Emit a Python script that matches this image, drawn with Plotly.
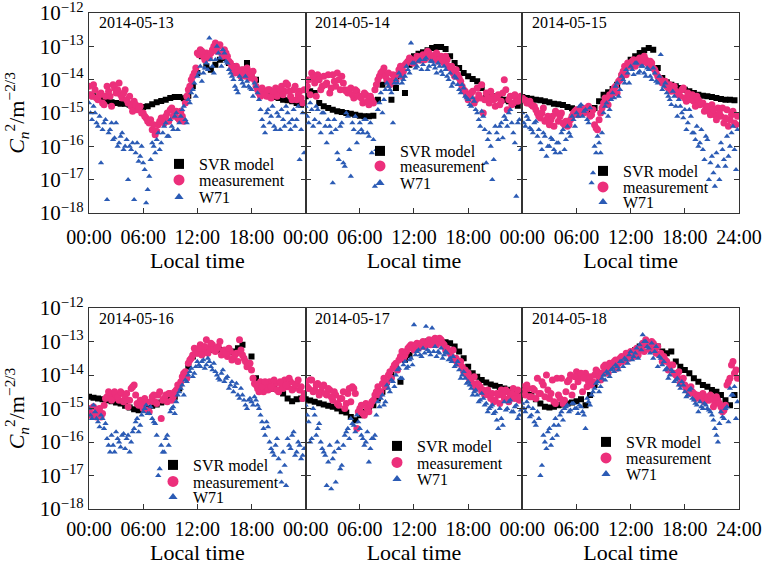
import plotly.graph_objects as go

FONT = "Liberation Serif"
PINK = "#ec2f7b"
BLUE = "#2b5bb5"

DATES = ["2014-05-13", "2014-05-14", "2014-05-15", "2014-05-16", "2014-05-17", "2014-05-18"]
SERIES_NAMES = ["SVR model", "measurement", "W71"]
TICK_VALS = [0, 6, 12, 18, 24]
TICK_TEXT_MID = ["00:00", "06:00", "12:00", "18:00", ""]
TICK_TEXT_END = ["00:00", "06:00", "12:00", "18:00", "24:00"]
Y_TICKS = [1e-18, 1e-17, 1e-16, 1e-15, 1e-14, 1e-13, 1e-12]
Y_TICK_TEXT = ["10<sup>\u221218</sup>", "10<sup>\u221217</sup>", "10<sup>\u221216</sup>",
               "10<sup>\u221215</sup>", "10<sup>\u221214</sup>", "10<sup>\u221213</sup>",
               "10<sup>\u221212</sup>"]

# local time in hours: SVR every 30 min, observations read at two interleaved 20-min grids
T_SVR = [0, 0.5, 1, 1.5, 2, 2.5, 3, 3.5, 4, 4.5, 5, 5.5, 6, 6.5, 7, 7.5, 8, 8.5, 9, 9.5,
         10, 10.5, 11, 11.5, 12, 12.5, 13, 13.5, 14, 14.5, 15, 15.5, 16, 16.5, 17, 17.5,
         18, 18.5, 19, 19.5, 20, 20.5, 21, 21.5, 22, 22.5, 23, 23.5]
T_OBS_A = [0, 0.33, 0.67, 1, 1.33, 1.67, 2, 2.33, 2.67, 3, 3.33, 3.67, 4, 4.33, 4.67, 5, 5.33, 5.67,
           6, 6.33, 6.67, 7, 7.33, 7.67, 8, 8.33, 8.67, 9, 9.33, 9.67, 10, 10.33, 10.67, 11, 11.33, 11.67,
           12, 12.33, 12.67, 13, 13.33, 13.67, 14, 14.33, 14.67, 15, 15.33, 15.67, 16, 16.33, 16.67,
           17, 17.33, 17.67, 18, 18.33, 18.67, 19, 19.33, 19.67, 20, 20.33, 20.67, 21, 21.33, 21.67,
           22, 22.33, 22.67, 23, 23.33, 23.67]
T_OBS_B = [0.17, 0.5, 0.83, 1.17, 1.5, 1.83, 2.17, 2.5, 2.83, 3.17, 3.5, 3.83, 4.17, 4.5, 4.83,
           5.17, 5.5, 5.83, 6.17, 6.5, 6.83, 7.17, 7.5, 7.83, 8.17, 8.5, 8.83, 9.17, 9.5, 9.83,
           10.17, 10.5, 10.83, 11.17, 11.5, 11.83, 12.17, 12.5, 12.83, 13.17, 13.5, 13.83,
           14.17, 14.5, 14.83, 15.17, 15.5, 15.83, 16.17, 16.5, 16.83, 17.17, 17.5, 17.83,
           18.17, 18.5, 18.83, 19.17, 19.5, 19.83, 20.17, 20.5, 20.83, 21.17, 21.5, 21.83,
           22.17, 22.5, 22.83, 23.17, 23.5, 23.83]

# values are log10(Cn2 / m^-2/3)
SVR_0513 = [-14.45, -14.5, -14.55, -14.6, -14.65, -14.68, -14.7, -14.72, -14.72, -14.75, -14.77, -14.8,
            -14.82, -14.8, -14.74, -14.68, -14.64, -14.6, -14.55, -14.52, -14.52, -14.56, -14.48, -14.2,
            -13.8, -13.3, -13.6, -13.7, -13.55, -13.4, -13.35, -13.5, -13.6, -13.75, -13.7, -13.5,
            -13.9, -14.0, -14.3, -14.45, -14.5, -14.52, -14.55, -14.6, -14.62, -14.65, -14.7, -14.75]
MEAS_0513_A = [-14.2, -14.5, -14.3, -14.6, -14.4, -14.75, -14.2, -14.5, -14.15, -14.4, -14.1, -14.55,
               -14.3, -14.7, -14.8, -14.65, -14.9, -14.8, -15.0, -15.15, -15.3, -15.5, -15.65, -15.35,
               -15.15, -15.3, -15.0, -14.9, -15.1, -14.95, -15.2, -15.1, -14.7, -14.3, -14.0, -13.8,
               -13.2, -13.1, -13.3, -13.2, -13.35, -13.1, -12.9, -13.0, -13.2, -13.1, -13.3, -13.5,
               -13.7, -13.6, -13.8, -13.7, -13.9, -13.75, -13.85, -14.0, -14.3, -14.5, -14.35, -14.5,
               -14.3, -14.45, -14.25, -14.4, -14.2, -14.35, -14.15, -14.5, -14.3, -14.6, -14.35, -14.7]
MEAS_0513_B = [-14.45, -14.15, -14.55, -14.45, -14.7, -14.5, -14.35, -14.8, -14.25, -14.3, -14.45, -14.4,
               -14.6, -14.5, -14.95, -14.75, -14.85, -15.0, -15.1, -15.25, -15.2, -15.35, -15.55, -15.25,
               -15.2, -15.1, -15.25, -14.85, -15.0, -15.15, -14.95, -15.25, -14.5, -14.2, -13.9, -13.65,
               -13.25, -13.15, -13.4, -13.3, -13.2, -13.0, -13.15, -12.95, -13.3, -13.2, -13.45, -13.6,
               -13.8, -13.7, -13.9, -13.8, -13.65, -13.95, -13.75, -14.2, -14.4, -14.25, -14.45, -14.3,
               -14.55, -14.35, -14.5, -14.3, -14.45, -14.1, -14.35, -14.6, -14.2, -14.45, -14.55, -14.3]
W71_0513_A = [-14.7, -15.2, -15.0, -15.4, -16.5, -15.3, -17.6, -15.5, -15.8, -15.3, -15.9, -15.6,
              -16.0, -17.0, -16.1, -17.6, -15.9, -16.3, -16.5, -17.7, -16.9, -15.9, -16.2, -15.6,
              -15.9, -15.4, -15.7, -15.2, -15.5, -15.0, -15.3, -14.9, -15.2, -14.6, -14.4, -14.1,
              -13.9, -13.6, -13.8, -13.5, -12.75, -13.6, -13.4, -13.2, -13.6, -13.2, -13.5, -13.8,
              -14.0, -14.3, -13.9, -14.1, -13.9, -14.2, -14.3, -14.1, -14.4, -14.9, -15.4, -15.0,
              -15.3, -14.8, -15.5, -15.1, -14.9, -15.4, -15.0, -15.5, -14.9, -15.2, -16.4, -15.0]
W71_0513_B = [-15.0, -14.8, -15.3, -15.1, -15.5, -15.2, -15.6, -15.3, -15.75, -16.0, -15.7, -16.1,
              -15.8, -16.0, -15.9, -16.2, -16.45, -16.0, -16.7, -17.3, -16.4, -16.0, -15.8, -16.1,
              -15.6, -15.3, -15.7, -15.4, -15.1, -15.5, -15.1, -14.8, -15.3, -14.7, -14.3, -14.5,
              -13.8, -14.05, -13.65, -13.7, -13.4, -13.8, -13.0, -13.35, -13.1, -13.45, -13.7, -13.9,
              -14.2, -14.4, -14.0, -14.2, -14.05, -14.25, -14.5, -14.2, -14.6, -15.2, -15.6, -14.9,
              -15.1, -15.4, -15.0, -15.5, -15.2, -14.8, -15.3, -15.2, -15.4, -14.8, -15.5, -16.2]

SVR_0514 = [-14.5, -14.35, -14.4, -14.7, -14.8, -14.85, -14.9, -14.95, -14.97, -15.0, -15.02, -15.05,
            -15.08, -15.1, -15.1, -15.08, -14.6, -14.15, -14.05, -14.6, -14.25, -13.9, -14.4, -13.55,
            -13.3, -13.22, -13.18, -13.12, -13.05, -13.02, -13.02, -13.08, -13.3, -13.5, -13.65, -13.8,
            -13.9, -13.98, -14.05, -14.25, -14.45, -14.48, -14.5, -14.52, -14.6, -14.65, -14.72, -14.78]
MEAS_0514_A = [-14.3, -14.0, -13.8, -14.1, -13.85, -14.3, -13.9, -14.1, -14.4, -13.85, -14.2, -14.0,
               -13.9, -14.3, -14.4, -14.25, -14.55, -14.35, -14.5, -14.7, -14.45, -14.75, -14.6, -14.3,
               -14.0, -13.8, -13.65, -14.0, -14.15, -13.85, -14.05, -13.7, -13.9, -13.55, -13.45, -13.4,
               -13.5, -13.3, -13.42, -13.25, -13.35, -13.2, -13.4, -13.25, -13.45, -13.3, -13.5, -13.4,
               -13.65, -13.8, -13.7, -13.95, -14.2, -14.35, -14.6, -14.4, -14.7, -14.25, -14.55, -15.0,
               -14.4, -14.7, -14.5, -14.8, -14.45, -14.65, -14.0, -14.9, -14.5, -14.7, -14.55, -14.6]
MEAS_0514_B = [-14.2, -14.45, -13.95, -14.5, -14.0, -14.2, -14.15, -13.85, -14.25, -14.05, -13.8, -14.3,
               -14.1, -14.35, -14.3, -14.45, -14.3, -14.5, -14.55, -14.4, -14.65, -14.5, -14.7, -14.15,
               -13.9, -13.75, -13.9, -13.8, -14.05, -13.95, -13.85, -13.6, -13.75, -13.5, -13.35, -13.5,
               -13.4, -13.35, -13.3, -13.4, -13.15, -13.3, -13.35, -13.2, -13.4, -13.45, -13.3, -13.6,
               -13.6, -13.9, -13.85, -14.05, -14.3, -14.45, -14.5, -14.35, -14.6, -14.45, -14.15, -14.6,
               -14.55, -14.35, -14.6, -14.55, -14.75, -14.4, -14.3, -14.6, -14.75, -14.45, -14.65, -14.5]
W71_0514_A = [-14.8, -15.3, -14.9, -15.2, -14.9, -15.6, -15.0, -15.9, -15.4, -17.1, -15.5, -16.4,
              -15.3, -16.6, -15.1, -16.9, -15.5, -15.9, -15.3, -15.6, -15.2, -15.7, -16.2, -17.2,
              -14.9, -14.4, -14.6, -14.1, -14.3, -15.3, -14.0, -13.8, -14.1, -13.9, -13.7, -12.9,
              -13.5, -13.6, -13.4, -13.55, -13.35, -13.6, -13.45, -13.65, -13.5, -13.75, -13.6, -13.9,
              -13.8, -14.1, -13.95, -14.3, -14.15, -14.5, -14.6, -14.8, -14.65, -15.0, -15.4, -15.1,
              -16.5, -15.6, -17.0, -15.4, -15.8, -15.3, -15.1, -15.4, -14.9, -15.6, -17.5, -15.2]
W71_0514_B = [-15.1, -14.7, -15.4, -14.8, -15.3, -15.0, -15.4, -15.2, -15.6, -15.2, -16.2, -15.4,
              -16.5, -15.0, -16.1, -15.3, -15.1, -15.6, -15.5, -15.2, -15.6, -15.3, -15.8, -16.1,
              -14.7, -15.0, -14.3, -14.2, -14.4, -14.1, -14.1, -13.9, -14.0, -13.6, -13.8, -13.5,
              -13.65, -13.45, -13.7, -13.4, -13.7, -13.45, -13.55, -13.8, -13.6, -13.85, -13.7, -14.0,
              -14.2, -13.9, -14.15, -14.4, -14.25, -14.55, -14.75, -14.55, -14.9, -15.2, -14.95, -15.5,
              -15.8, -16.0, -16.4, -15.6, -15.4, -15.75, -15.2, -15.0, -15.3, -15.9, -15.3, -16.1]

SVR_0515 = [-14.52, -14.55, -14.57, -14.6, -14.62, -14.65, -14.68, -14.72, -14.74, -14.76, -14.82, -14.86,
            -14.9, -14.93, -14.96, -15.0, -14.85, -14.65, -14.45, -14.38, -14.28, -14.15, -13.9, -13.6,
            -13.4, -13.3, -13.2, -13.12, -13.05, -13.1, -13.65, -13.95, -14.08, -14.15, -14.2, -14.25,
            -14.3, -14.35, -14.4, -14.45, -14.48, -14.5, -14.52, -14.55, -14.58, -14.6, -14.6, -14.62]
MEAS_0515_A = [-14.55, -14.62, -14.7, -14.75, -14.8, -15.0, -15.15, -14.85, -15.2, -15.35, -15.1, -14.95,
               -15.25, -15.0, -15.35, -15.4, -15.2, -15.0, -14.9, -15.0, -14.85, -14.95, -14.8, -15.05,
               -15.35, -15.5, -15.0, -14.7, -14.6, -14.45, -14.35, -14.2, -14.05, -13.85, -13.6, -13.5,
               -13.55, -13.4, -13.5, -13.35, -13.45, -13.4, -13.55, -13.5, -13.7, -13.9, -14.0, -14.1,
               -14.2, -14.15, -14.3, -14.35, -14.45, -14.3, -14.55, -14.4, -14.6, -14.65, -14.5, -14.75,
               -14.7, -14.85, -14.95, -14.75, -15.05, -14.85, -15.1, -15.3, -14.9, -15.2, -14.95, -15.35]
MEAS_0515_B = [-14.6, -14.7, -14.65, -14.8, -14.9, -15.1, -15.0, -15.25, -15.1, -15.2, -15.4, -15.0,
               -15.1, -15.3, -15.25, -15.35, -15.1, -14.95, -15.05, -14.9, -15.0, -14.85, -15.1, -14.9,
               -15.45, -15.2, -14.85, -14.55, -14.75, -14.5, -14.25, -14.4, -14.0, -13.75, -13.85, -13.6,
               -13.45, -13.6, -13.4, -13.5, -13.3, -13.5, -13.45, -13.65, -13.8, -13.95, -14.1, -14.05,
               -14.25, -14.35, -14.2, -14.4, -14.5, -14.25, -14.65, -14.5, -14.45, -14.8, -14.6, -14.7,
               -14.95, -14.8, -15.05, -14.9, -15.2, -15.0, -14.85, -15.15, -15.4, -15.05, -15.3, -15.1]
W71_0515_A = [-15.0, -15.4, -15.2, -15.5, -15.3, -15.7, -15.9, -15.6, -16.3, -16.0, -15.8, -16.2,
              -15.9, -15.6, -16.1, -15.4, -15.7, -15.2, -15.0, -14.8, -15.1, -14.9, -15.3, -17.1,
              -16.0, -15.7, -16.2, -15.0, -14.7, -14.9, -14.4, -14.2, -14.5, -13.9, -14.1, -13.8,
              -13.6, -13.85, -13.5, -13.75, -13.6, -13.9, -13.7, -14.0, -13.8, -14.1, -13.25, -14.2,
              -14.4, -14.6, -14.35, -14.8, -14.6, -15.0, -14.9, -15.3, -15.1, -15.6, -15.4, -15.9,
              -16.1, -15.7, -17.0, -16.3, -17.2, -16.6, -15.9, -16.4, -15.7, -16.0, -15.4, -16.7]
W71_0515_B = [-15.3, -15.1, -15.45, -15.6, -15.25, -15.5, -16.1, -15.7, -16.0, -15.75, -16.1, -15.9,
              -16.2, -15.5, -15.8, -15.6, -15.1, -15.4, -15.1, -14.75, -14.95, -15.2, -14.85, -16.8,
              -16.2, -15.9, -15.6, -14.8, -15.1, -14.6, -14.55, -14.1, -14.3, -14.0, -13.7, -14.1,
              -13.7, -13.5, -13.8, -13.6, -13.8, -13.65, -13.9, -13.65, -14.05, -13.9, -14.3, -14.1,
              -14.5, -14.75, -14.5, -15.1, -14.8, -15.15, -15.5, -14.9, -15.6, -15.8, -16.0, -15.5,
              -16.4, -15.8, -16.5, -16.8, -16.2, -17.0, -16.1, -16.6, -16.3, -15.6, -16.1, -15.5]

SVR_0516 = [-14.65, -14.68, -14.7, -14.72, -14.75, -14.78, -14.82, -14.85, -14.92, -14.97, -15.02, -15.05,
            -15.02, -15.0, -14.92, -14.88, -14.82, -14.78, -14.7, -14.65, -14.4, -14.0, -13.75, -13.45,
            -13.35, -13.3, -13.28, -13.25, -13.22, -13.25, -13.3, -13.32, -13.3, -13.2, -13.1, -13.65,
            -13.45, -14.1, -14.3, -14.35, -14.38, -14.42, -14.45, -14.55, -14.7, -14.78, -14.72, -14.7]
MEAS_0516_A = [-15.0, -15.15, -15.2, -15.1, -15.25, -14.9, -14.65, -14.55, -14.7, -14.6, -14.75, -14.55,
               -14.7, -14.95, -14.4, -14.3, -14.85, -14.75, -15.0, -14.8, -15.1, -14.65, -14.8, -14.6,
               -15.3, -14.7, -14.8, -14.55, -14.65, -14.45, -14.3, -14.05, -13.9, -13.65, -13.5, -13.2,
               -13.35, -13.1, -13.3, -12.95, -13.2, -13.1, -13.3, -13.15, -13.4, -13.25, -13.45, -13.3,
               -13.5, -13.35, -12.95, -13.4, -13.6, -13.7, -13.85, -14.25, -14.4, -14.2, -14.5, -14.3,
               -14.2, -14.4, -14.25, -14.5, -14.3, -14.15, -14.35, -14.2, -14.4, -14.25, -14.45, -14.7]
MEAS_0516_B = [-15.2, -14.95, -15.25, -15.0, -15.15, -14.7, -14.5, -14.75, -14.5, -14.65, -14.5, -14.8,
               -14.55, -14.75, -14.35, -14.6, -14.9, -14.9, -14.7, -15.05, -14.8, -14.6, -14.85, -14.5,
               -14.75, -14.6, -14.55, -14.75, -14.5, -14.3, -14.2, -13.95, -14.1, -13.55, -13.4, -13.3,
               -13.2, -13.4, -13.15, -13.35, -13.05, -13.25, -13.2, -13.0, -13.3, -13.35, -13.2, -13.55,
               -13.4, -13.6, -13.25, -13.5, -13.75, -13.65, -14.1, -14.3, -14.5, -14.35, -14.2, -14.45,
               -14.35, -14.15, -14.45, -14.2, -14.4, -14.3, -14.1, -14.45, -14.3, -14.15, -14.35, -14.55]
W71_0516_A = [-15.0, -15.3, -15.1, -15.4, -15.2, -15.6, -15.9, -16.3, -16.1, -15.7, -16.0, -15.8,
              -16.2, -15.8, -16.0, -15.6, -15.3, -15.5, -15.1, -14.9, -15.15, -15.3, -15.45, -17.0,
              -16.1, -16.3, -15.8, -15.1, -14.95, -14.8, -14.5, -14.3, -14.15, -14.0, -13.8, -13.95,
              -13.6, -13.75, -13.55, -13.7, -13.6, -13.85, -13.9, -14.1, -13.95, -14.2, -14.05, -14.3,
              -14.5, -14.25, -14.7, -14.6, -14.9, -14.75, -14.8, -14.65, -14.9, -15.2, -15.6, -15.4,
              -16.0, -16.3, -16.1, -16.5, -17.2, -16.7, -15.9, -16.2, -15.7, -16.3, -16.1, -16.4]
W71_0516_B = [-15.2, -14.9, -15.3, -15.55, -15.3, -15.45, -16.1, -15.8, -16.3, -15.9, -16.15, -15.75,
              -15.9, -16.3, -15.7, -15.4, -15.7, -15.2, -15.0, -15.15, -14.95, -15.4, -15.8, -16.8,
              -16.3, -15.9, -16.1, -15.0, -15.15, -14.6, -14.4, -14.6, -14.2, -13.9, -14.05, -13.75,
              -13.7, -13.6, -13.8, -13.5, -13.75, -13.65, -14.0, -14.15, -13.85, -14.1, -14.4, -14.2,
              -14.35, -14.6, -14.4, -14.75, -15.0, -14.7, -14.9, -14.75, -15.0, -15.4, -15.8, -15.55,
              -16.2, -16.4, -15.9, -16.9, -16.3, -17.3, -16.1, -15.8, -16.4, -16.0, -16.5, -16.2]

SVR_0517 = [-14.72, -14.76, -14.8, -14.84, -14.88, -14.92, -14.95, -15.0, -15.08, -15.12, -15.25, -15.35,
            -15.2, -15.1, -15.0, -14.9, -14.7, -14.5, -14.2, -14.0, -13.75, -14.2, -13.55, -13.4,
            -13.2, -13.15, -13.05, -13.0, -12.98, -12.96, -13.0, -13.02, -13.05, -13.15, -13.3, -13.5,
            -13.75, -13.95, -14.05, -14.15, -14.22, -14.28, -14.32, -14.36, -14.4, -14.44, -14.46, -14.5]
MEAS_0517_A = [-14.2, -14.4, -14.15, -14.45, -14.25, -14.5, -14.3, -14.6, -14.45, -14.75, -14.6, -14.9,
               -14.7, -15.0, -14.55, -14.8, -14.4, -15.6, -15.0, -15.15, -14.85, -15.1, -14.8, -14.6,
               -14.35, -14.5, -14.1, -14.2, -13.9, -13.8, -13.65, -13.55, -13.3, -13.4, -13.2, -13.1,
               -13.25, -13.05, -13.15, -13.0, -13.1, -12.95, -13.05, -12.9, -13.0, -12.95, -13.1, -13.2,
               -13.35, -13.25, -13.5, -13.6, -13.75, -13.85, -13.95, -14.1, -14.05, -14.25, -14.35, -14.45,
               -14.5, -14.6, -14.55, -14.75, -14.6, -14.45, -14.7, -14.5, -14.65, -14.4, -14.6, -14.75]
MEAS_0517_B = [-14.35, -14.15, -14.5, -14.3, -14.6, -14.35, -14.55, -14.4, -14.65, -14.5, -14.85, -14.7,
               -14.5, -14.85, -14.4, -14.35, -14.55, -15.1, -14.9, -15.2, -15.0, -14.9, -14.75, -14.5,
               -14.6, -14.25, -14.35, -14.0, -14.1, -13.7, -13.85, -13.45, -13.5, -13.3, -13.15, -13.2,
               -13.1, -13.2, -13.05, -13.15, -13.05, -13.1, -12.95, -13.1, -12.9, -13.05, -13.25, -13.3,
               -13.45, -13.55, -13.65, -13.6, -13.9, -14.0, -14.15, -14.25, -14.4, -14.3, -14.5, -14.6,
               -14.45, -14.7, -14.8, -14.55, -14.85, -14.6, -14.45, -14.8, -14.55, -14.7, -14.45, -14.65]
W71_0517_A = [-14.9, -15.4, -15.9, -15.2, -15.6, -16.0, -16.3, -17.3, -16.1, -16.5, -17.2, -16.2,
              -16.7, -15.8, -15.6, -15.3, -15.5, -15.2, -15.6, -15.9, -16.0, -16.6, -15.9, -15.8,
              -14.8, -14.7, -14.9, -14.3, -14.5, -14.2, -14.0, -13.8, -14.1, -13.6, -13.75, -13.5,
              -12.5, -13.3, -13.4, -13.2, -12.55, -13.3, -12.6, -13.15, -13.3, -13.2, -13.4, -13.35,
              -13.5, -13.45, -13.7, -13.85, -14.0, -14.1, -14.2, -14.4, -14.5, -14.6, -14.75, -14.7,
              -14.85, -15.0, -14.9, -15.1, -15.6, -15.3, -14.8, -15.0, -14.75, -15.1, -14.9, -15.2]
W71_0517_B = [-15.2, -16.0, -15.0, -15.8, -15.45, -16.2, -16.4, -16.6, -17.4, -16.3, -16.0, -16.8,
              -16.1, -15.7, -15.9, -15.45, -15.7, -15.4, -15.8, -16.1, -15.7, -16.2, -15.9, -15.2,
              -14.95, -14.6, -14.8, -14.4, -14.15, -14.35, -13.85, -14.1, -13.7, -13.8, -13.55, -13.7,
              -13.4, -13.25, -13.45, -13.35, -13.25, -13.4, -13.3, -13.45, -13.35, -13.5, -13.3, -13.55,
              -13.6, -13.75, -13.6, -14.1, -13.9, -14.25, -14.3, -14.6, -14.45, -14.8, -14.55, -14.9,
              -15.1, -14.95, -15.15, -15.35, -15.0, -15.5, -15.05, -14.8, -15.1, -14.95, -15.3, -15.05]

SVR_0518 = [-14.45, -14.5, -14.6, -14.72, -14.85, -14.95, -14.97, -14.95, -14.9, -14.88, -14.85, -14.82,
            -14.78, -14.72, -14.9, -14.6, -14.3, -14.15, -13.95, -13.85, -13.7, -13.65, -13.55, -13.45,
            -13.35, -13.25, -13.15, -13.1, -13.05, -13.1, -13.15, -13.3, -13.35, -13.3, -13.6, -13.75,
            -13.85, -13.95, -14.1, -14.2, -14.3, -14.35, -14.45, -14.5, -14.6, -14.75, -14.9, -14.6]
MEAS_0518_A = [-14.35, -14.6, -14.4, -14.65, -14.45, -14.1, -14.55, -14.3, -14.0, -14.7, -14.15, -14.85,
               -14.6, -14.1, -14.75, -14.2, -14.0, -14.35, -13.9, -14.05, -14.5, -13.95, -14.2, -14.3,
               -14.0, -13.9, -14.15, -13.75, -13.85, -13.65, -13.7, -13.55, -13.65, -13.45, -13.55, -13.4,
               -13.3, -13.45, -13.2, -13.25, -13.05, -12.95, -13.1, -13.0, -13.2, -13.15, -13.35, -13.45,
               -13.6, -13.75, -13.7, -14.0, -13.9, -14.15, -14.3, -14.45, -14.35, -14.55, -14.6, -14.7,
               -14.55, -14.65, -14.75, -14.7, -14.85, -14.75, -14.95, -15.05, -14.3, -14.1, -13.6, -13.85]
MEAS_0518_B = [-14.5, -14.3, -14.65, -14.4, -14.7, -14.55, -14.2, -14.65, -14.45, -14.55, -14.8, -14.1,
               -14.7, -14.85, -14.5, -14.15, -14.6, -14.05, -14.2, -13.95, -14.1, -14.35, -14.05, -14.2,
               -13.85, -14.1, -13.95, -13.7, -13.95, -13.75, -13.6, -13.8, -13.5, -13.6, -13.35, -13.5,
               -13.35, -13.25, -13.4, -13.15, -13.3, -13.1, -13.25, -13.05, -13.35, -13.4, -13.6, -13.55,
               -13.85, -13.7, -13.95, -14.05, -14.25, -14.1, -14.4, -14.55, -14.5, -14.7, -14.65, -14.6,
               -14.8, -14.7, -14.6, -14.95, -14.65, -14.85, -15.1, -14.9, -14.2, -13.7, -13.95, -14.1]
W71_0518_A = [-14.85, -15.1, -14.95, -15.2, -15.4, -15.1, -17.0, -15.8, -16.2, -15.6, -15.9, -15.3,
              -15.5, -15.1, -15.0, -14.9, -15.05, -14.85, -15.0, -14.9, -15.1, -15.6, -14.8, -14.6,
              -14.4, -14.2, -14.35, -14.0, -13.9, -14.05, -13.8, -13.7, -13.85, -13.6, -13.5, -13.65,
              -13.3, -13.45, -13.2, -13.1, -12.8, -13.0, -13.2, -13.05, -13.3, -13.75, -13.5, -13.6,
              -13.8, -14.0, -13.9, -14.15, -14.3, -14.2, -14.5, -14.6, -14.4, -14.75, -14.9, -14.8,
              -15.0, -14.9, -15.05, -15.2, -15.6, -16.0, -15.1, -15.3, -14.95, -14.4, -14.6, -15.3]
W71_0518_B = [-15.0, -14.8, -15.25, -15.0, -15.5, -15.3, -16.7, -16.0, -15.7, -16.1, -15.5, -15.8,
              -15.2, -15.35, -14.95, -15.1, -14.85, -15.0, -15.15, -14.95, -15.2, -14.7, -14.9, -14.5,
              -14.25, -14.5, -14.1, -14.15, -13.95, -13.85, -13.9, -13.75, -13.6, -13.75, -13.55, -13.4,
              -13.55, -13.35, -13.5, -13.25, -13.0, -13.15, -13.35, -13.5, -13.15, -13.45, -13.7, -13.85,
              -14.1, -13.85, -14.2, -14.1, -14.4, -14.3, -14.65, -14.45, -14.7, -14.85, -15.1, -14.95,
              -14.85, -15.0, -15.1, -15.35, -15.8, -15.45, -15.25, -15.0, -15.4, -14.6, -14.35, -14.8]

PANELS = [
    (SVR_0513, MEAS_0513_A, MEAS_0513_B, W71_0513_A, W71_0513_B),
    (SVR_0514, MEAS_0514_A, MEAS_0514_B, W71_0514_A, W71_0514_B),
    (SVR_0515, MEAS_0515_A, MEAS_0515_B, W71_0515_A, W71_0515_B),
    (SVR_0516, MEAS_0516_A, MEAS_0516_B, W71_0516_A, W71_0516_B),
    (SVR_0517, MEAS_0517_A, MEAS_0517_B, W71_0517_A, W71_0517_B),
    (SVR_0518, MEAS_0518_A, MEAS_0518_B, W71_0518_A, W71_0518_B),
]

# legend text positions (px in the 765x567 picture): text left x, row centres y
LEGEND_POS = [
    (199, [164, 180, 197]),
    (400, [151, 166, 183]),
    (623, [171, 187, 202]),
    (193, [465, 481.5, 497]),
    (417, [446, 462.5, 479]),
    (626, [442, 458, 474]),
]

W, H = 765, 567
ML, MR, MT, MB = 89, 26, 13, 58
PW, PH = W - ML - MR, H - MT - MB


def px_to_paper(px, py):
    return (px - ML) / PW, (H - MB - py) / PH


MARK = [dict(symbol="square", size=6, color="#000000"),
        dict(symbol="circle", size=7, color=PINK),
        dict(symbol="triangle-up", size=5.5, color=BLUE)]
LEG_MARK = [dict(symbol="square", size=10, color="#000000"),
            dict(symbol="circle", size=11, color=PINK),
            dict(symbol="triangle-up", size=8, color=BLUE)]

fig = go.Figure()
layout = dict(width=W, height=H, margin=dict(l=ML, r=MR, t=MT, b=MB, autoexpand=False),
              paper_bgcolor="white", plot_bgcolor="white",
              font=dict(family=FONT, size=20, color="black"), annotations=[])

row_dom = [[0.5968, 1.0], [0.0, 0.4052]]
leg_idx = 0
for i, (svr, meas_a, meas_b, w71_a, w71_b) in enumerate(PANELS):
    row, col = divmod(i, 3)
    sfx = "" if i == 0 else str(i + 1)
    xa, ya = "x" + sfx, "y" + sfx
    series = [(T_SVR, svr), (T_OBS_A + T_OBS_B, meas_a + meas_b), (T_OBS_A + T_OBS_B, w71_a + w71_b)]
    for k, (xs, vals) in enumerate(series):
        fig.add_trace(go.Scatter(
            x=xs, y=[10 ** v for v in vals], mode="markers",
            marker=dict(line=dict(width=0), **MARK[k]),
            name=SERIES_NAMES[k], showlegend=False, xaxis=xa, yaxis=ya,
            hovertemplate="%{x:.2f} h<br>%{y:.2e}<extra>" + SERIES_NAMES[k] + "</extra>"))
    tx, rows_y = LEGEND_POS[i]
    for k in range(3):
        leg_idx += 1
        lname = "legend" if leg_idx == 1 else "legend%d" % leg_idx
        fig.add_trace(go.Scatter(
            x=[None], y=[None], mode="markers", marker=dict(line=dict(width=0), **LEG_MARK[k]),
            name=SERIES_NAMES[k], showlegend=True, legend=lname, xaxis=xa, yaxis=ya))
        lx, ly = px_to_paper(tx - 40, rows_y[k])
        layout[lname] = dict(x=lx, y=ly, xanchor="left", yanchor="middle",
                             bgcolor="rgba(0,0,0,0)", borderwidth=0, itemwidth=30,
                             font=dict(family=FONT, size=16, color="black"))
    layout["xaxis" + sfx] = dict(
        domain=[col / 3, (col + 1) / 3], anchor=ya, range=[0, 24], automargin=False,
        tickmode="array", tickvals=TICK_VALS,
        ticktext=TICK_TEXT_END if col == 2 else TICK_TEXT_MID,
        ticks="inside", ticklen=5, tickwidth=1.2, tickcolor="#333",
        ticklabelstandoff=6 if row == 0 else 2, ticklabeloverflow="allow",
        showline=True, linecolor="#333", linewidth=1.3, mirror=True,
        showgrid=False, zeroline=False, tickfont=dict(family=FONT, size=20),
        title=dict(text="Local time", font=dict(family=FONT, size=22), standoff=0 if row == 0 else 2))
    layout["yaxis" + sfx] = dict(
        domain=row_dom[row], anchor=xa, type="log", range=[-18, -12], automargin=False,
        tickmode="array", tickvals=Y_TICKS, ticktext=Y_TICK_TEXT, ticklabeloverflow="allow",
        showticklabels=(col == 0),
        ticks="inside", ticklen=5, tickwidth=1.2, tickcolor="#333",
        showline=True, linecolor="#333", linewidth=1.3, mirror="ticks",
        showgrid=False, zeroline=False, tickfont=dict(family=FONT, size=21),
        title=dict(text=("<i>C</i><sub><i>n</i></sub><sup>2</sup>/m<sup>\u22122/3</sup>" if col == 0 else ""),
                   font=dict(family=FONT, size=22), standoff=8))
    layout["annotations"].append(dict(
        text=DATES[i], xref=xa + " domain", yref=ya + " domain", x=0.035, y=0.95,
        xanchor="left", yanchor="middle", showarrow=False,
        font=dict(family=FONT, size=16, color="black")))

fig.update_layout(**layout)
fig.write_html("out.html", config={"displayModeBar": False},
               post_script="document.body.style.margin='0';document.body.style.overflow='hidden';")
